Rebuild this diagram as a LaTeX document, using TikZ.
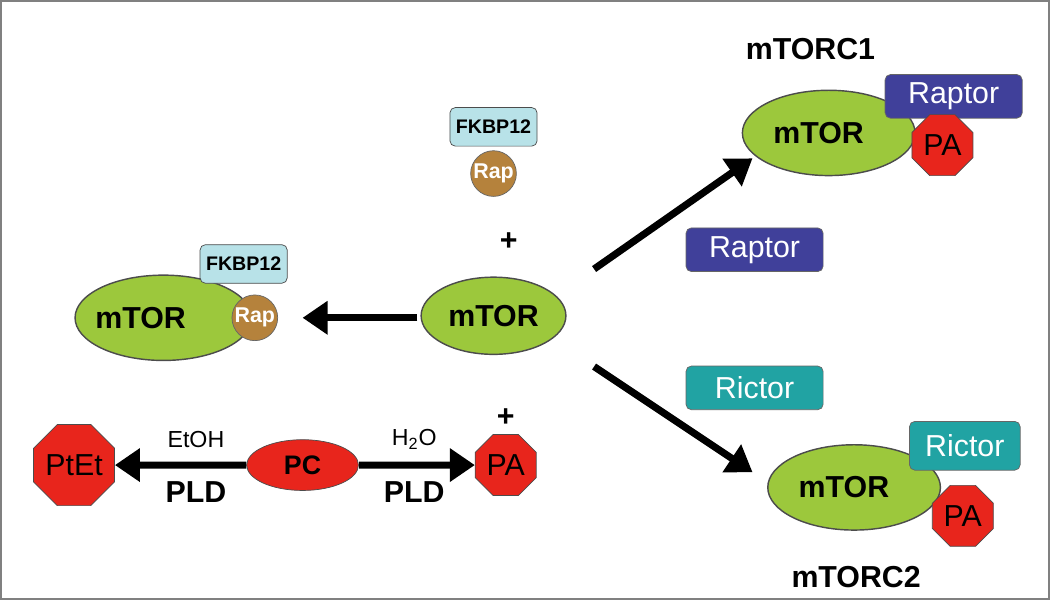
\documentclass[tikz,border=0pt]{standalone}
\usepackage{fontspec}
\setmainfont{Liberation Sans}
\usetikzlibrary{shapes.geometric,arrows.meta}
\definecolor{grn}{HTML}{9CC83C}
\definecolor{fk}{HTML}{B8E2E8}
\definecolor{rap}{HTML}{B5823C}
\definecolor{rpt}{HTML}{40409A}
\definecolor{ric}{HTML}{21A3A3}
\definecolor{par}{HTML}{E8251C}
\begin{document}
\begin{tikzpicture}[x=0.02cm,y=-0.02cm,
 mt/.style={ellipse,draw=black!70,fill=grn,line width=0.8pt,font=\bfseries\fontsize{17}{17}\selectfont},
 fkb/.style={rectangle,rounded corners=3pt,draw=black!70,fill=fk,font=\bfseries\fontsize{11}{11}\selectfont,minimum width=1.46cm,minimum height=0.76cm},
 rp/.style={circle,draw=black!60,fill=rap,text=white,font=\bfseries\fontsize{12}{12}\selectfont,minimum size=0.9cm,inner sep=0pt},
 box/.style={rectangle,rounded corners=3pt,draw=black!60,text=white,font=\fontsize{17}{17}\selectfont,minimum width=2.7cm,minimum height=0.86cm},
 oct/.style={regular polygon,regular polygon sides=8,draw=black!70,fill=par,inner sep=0pt,minimum size=1.3cm,font=\fontsize{17}{17}\selectfont},
 arr/.style={line width=4pt,-{Triangle[length=14pt,width=18pt]}},
 lb/.style={font=\bfseries\fontsize{17}{17}\selectfont}]
\draw[gray,line width=1pt] (8,8) rectangle (1040,597);
% center
\node[mt,minimum width=2.52cm,minimum height=1.52cm] (m) at (493,318) {mTOR};
\node[fkb] (f1) at (493,132) {FKBP12};
\node[rp] (r1) at (493,178) {Rap};
\node[lb] (p1) at (508,245) {+};
\node[lb] (p2) at (505,418) {+};
% left complex
\node[mt,minimum width=3.48cm,minimum height=1.68cm] (ml) at (168,320) {\hspace*{-0.9cm}mTOR};
\node[fkb] (f2) at (247,267) {FKBP12};
\node[rp] (r2) at (258,320) {Rap};
\coordinate (al1) at (418,320); \coordinate (al2) at (305,320);
\draw[arr] (al1) -- (al2);
% arrows right
\coordinate (a1s) at (592,272); \coordinate (a1e) at (748,163);
\coordinate (a2s) at (592,368); \coordinate (a2e) at (748,472);
\draw[arr] (a1s) -- (a1e);
\draw[arr] (a2s) -- (a2e);
\node[box,fill=rpt] (rb) at (750,253) {Raptor};
\node[box,fill=ric] (cb) at (750,389) {Rictor};
% mTORC1
\node[lb] (t1) at (805,55) {mTORC1};
\node[mt,minimum width=3.4cm,minimum height=1.68cm] (m1) at (823,138) {\hspace*{-0.4cm}mTOR};
\node[box,fill=rpt] (rb1) at (946,102) {Raptor};
\node[oct] (pa1) at (935,150) {PA};
% mTORC2
\node[mt,minimum width=3.4cm,minimum height=1.68cm] (m2) at (848,487) {\hspace*{-0.4cm}mTOR};
\node[box,fill=ric,minimum width=2.18cm,minimum height=0.96cm] (cb2) at (957,446) {Rictor};
\node[oct] (pa2) at (955,515) {PA};
\node[lb] (t2) at (850,575) {mTORC2};
% bottom
\node[oct] (pt) at (80,465) {PtEt};
\node[ellipse,draw=black!70,fill=par,minimum width=2.2cm,minimum height=1cm,font=\bfseries\fontsize{15}{15}\selectfont] (pc) at (305,465) {PC};
\node[oct] (pa3) at (505,465) {PA};
\draw[arr] (pc) -- (pt);
\draw[arr] (pc) -- (pa3);
\node[font=\fontsize{13}{13}\selectfont] (e1) at (200,440) {EtOH};
\node[lb] (l1) at (200,492) {PLD};
\node[font=\fontsize{13}{13}\selectfont] (e2) at (415,440) {H\textsubscript{2}O};
\node[lb] (l2) at (415,492) {PLD};
\end{tikzpicture}
\end{document}
